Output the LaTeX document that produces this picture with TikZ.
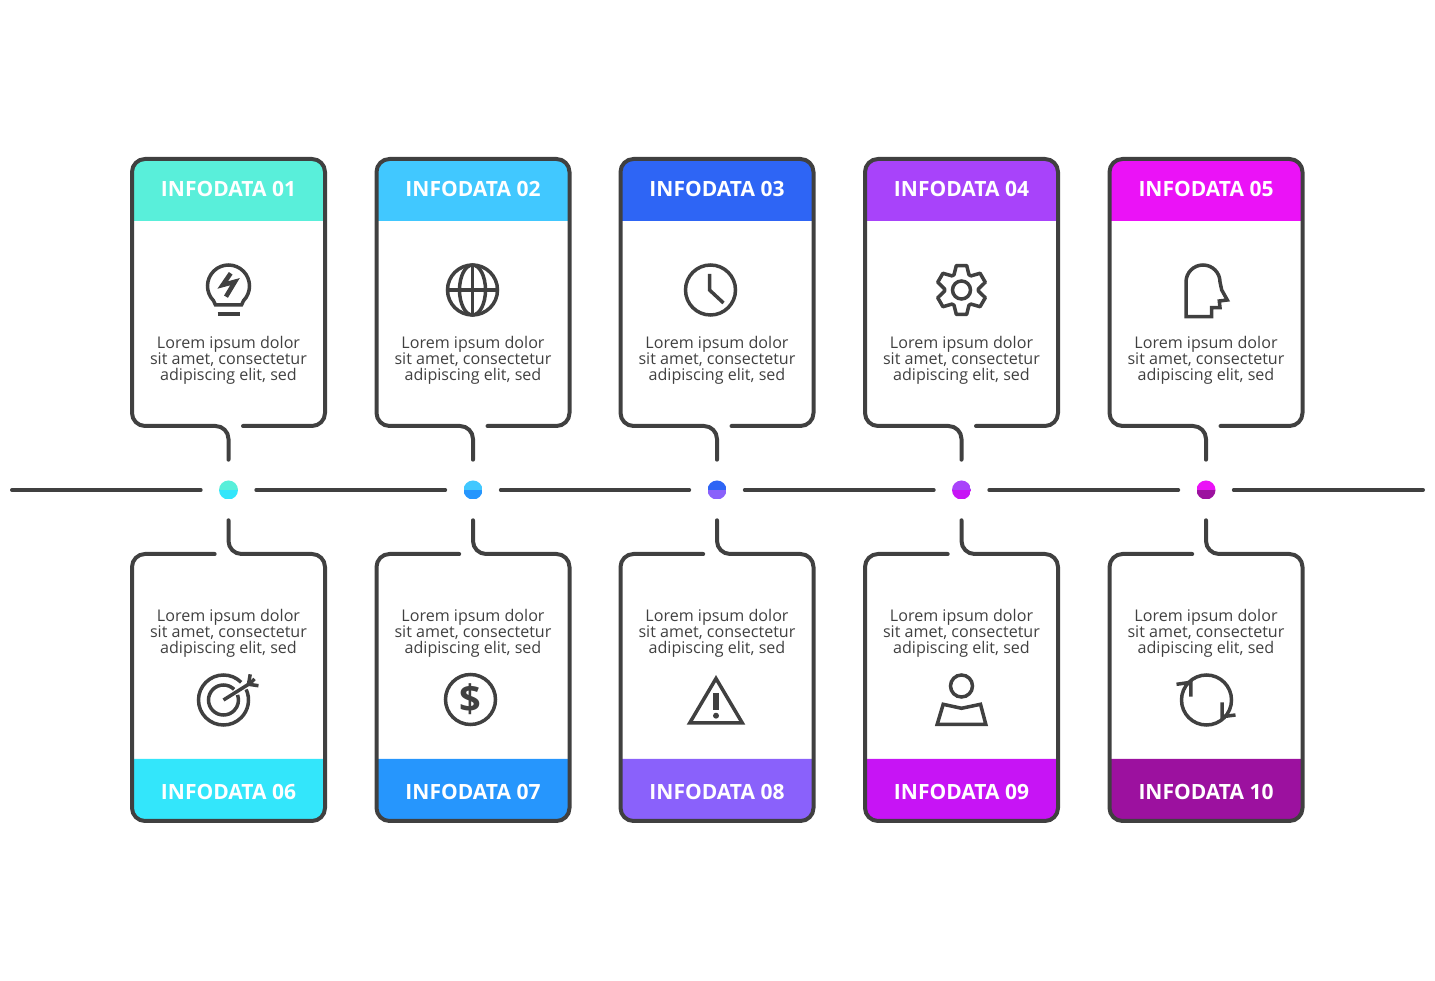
\documentclass[tikz,border=0pt]{standalone}
\usepackage{fontspec}
\usepackage{xcolor}
\setmainfont{Open Sans}
\usetikzlibrary{positioning}
\definecolor{inkgray}{HTML}{404040}
\definecolor{headA}{HTML}{59EFDA}
\definecolor{headB}{HTML}{41C8FF}
\definecolor{headC}{HTML}{2E65F5}
\definecolor{headD}{HTML}{A843FA}
\definecolor{headE}{HTML}{EB12F7}
\definecolor{headF}{HTML}{33E6FB}
\definecolor{headG}{HTML}{2696FD}
\definecolor{headH}{HTML}{8A61FB}
\definecolor{headI}{HTML}{C714F5}
\definecolor{headJ}{HTML}{9C119F}
\tikzset{
  wire/.style={draw=inkgray, line width=4, line cap=round, line join=round},
  cardbox/.style={minimum width=193, minimum height=267, inner sep=0, outer sep=0},
  dotnode/.style={circle, minimum size=19, inner sep=0, outer sep=0},
  titletext/.style={text=white, font=\fontsize{21}{24}\selectfont\bfseries},
  bodytext/.style={text=inkgray, align=center, font=\fontsize{16.1}{16}\selectfont},
  iconline/.style={draw=inkgray, line width=3.5},
  bulbicon/.pic={
    \draw[iconline] (-15,-14.7) arc[start angle=224.4, end angle=-44.4, radius=21] -- (13,-19) -- (-13,-19) -- cycle;
    \draw[iconline] (-11,-28) -- (11,-28);
    \draw[iconline, line width=4.5] (2.2,12.7) -- (-5.8,1) -- (6.5,4.3) -- (-2.5,-10.7);
  },
  globeicon/.pic={
    \draw[iconline] (0,0) circle[radius=25];
    \draw[iconline] (0,0) ellipse[x radius=13, y radius=25];
    \draw[iconline] (-25,0) -- (25,0) (0,25) -- (0,-25);
  },
  clockicon/.pic={
    \draw[iconline] (0,0) circle[radius=25];
    \draw[iconline] (-1,16) -- (-1,0) -- (13,-13);
  },
  gearicon/.pic={
    \draw[iconline, line join=round] (116:17) \foreach \a in {90,30,-30,-90,-150,-210} {
      -- (\a+26:17) -- (\a+12:25) -- (\a-12:25) -- (\a-26:17)} -- cycle;
    \draw[iconline] (0,0) circle[radius=9];
  },
  headicon/.pic={
    \draw[iconline] (-20,-26.7) -- (-20,8) arc[start angle=180, end angle=0, radius=17] -- (15.7,0) -- (21.3,-10) -- (13.3,-11) -- (14,-17.7) -- (5.7,-17.7) -- (5.7,-26.7) -- cycle;
  },
  targeticon/.pic={
    \draw[iconline] (0,0) ++(45:25) arc[start angle=45, end angle=385, radius=25];
    \draw[iconline] (0,0) ++(45:15) arc[start angle=45, end angle=380, radius=15];
    \draw[iconline] (0,0) -- (25,15.7);
    \draw[iconline] (26.7,25.7) -- (25,15.7) -- (35,14.3);
    \draw[iconline] (31,21) -- (26,16);
  },
  dollaricon/.pic={
    \draw[iconline] (0,0) circle[radius=25];
    \node[text=inkgray, inner sep=0, font=\fontsize{38}{40}\selectfont\bfseries] (dollarsign) at (0,0) {\$};
  },
  warningicon/.pic={
    \draw[iconline] (0,21.5) -- (26.3,-23) -- (-26.3,-23) -- cycle;
    \draw[inkgray, line width=5.2] (0,7) -- (0,-10);
    \fill[inkgray] (0,-15.7) circle[radius=3];
  },
  personicon/.pic={
    \draw[iconline] (0,14) circle[radius=11];
    \draw[iconline] (-18.3,-4.3) -- (0,-8.3) -- (19,-4.3) -- (24.3,-24.3) -- (-24.3,-24.3) -- cycle;
  },
  cycleicon/.pic={
    \draw[iconline] (0,0) circle[radius=25];
    \draw[iconline] (-30,15.7) -- (-15.7,17.7) -- (-15.7,3.3);
    \draw[iconline] (15.7,-2.3) -- (15.7,-16.7) -- (29,-15);
  }
}

\begin{document}
\begin{tikzpicture}[x=1pt, y=1pt]
  \useasboundingbox (0,0) rectangle (1435,980);
  % points on the line
  \foreach \n/\cx/\ctop/\cbot in {1/228.5/headA/headF, 2/473/headB/headG, 3/717/headC/headH, 4/961.5/headD/headI, 5/1206/headE/headJ} {
    \node[dotnode, path picture={
        \fill[\ctop] (path picture bounding box.north west) rectangle (path picture bounding box.east);
        \fill[\cbot] (path picture bounding box.west) rectangle (path picture bounding box.south east);
      }] (dot\n) at (\cx,490) {};
  }
  % main line
  \coordinate (lineleft) at (12,490);
  \coordinate (lineright) at (1423,490);
  \draw[wire, shorten >=18.3] (lineleft) -- (dot1);
  \foreach \a/\b in {1/2, 2/3, 3/4, 4/5} {
    \draw[wire, shorten <=18.3, shorten >=18.3] (dot\a) -- (dot\b);
  }
  \draw[wire, shorten <=18.3] (dot5) -- (lineright);
  % upper cards
  \foreach \n/\num/\col in {1/01/headA, 2/02/headB, 3/03/headC, 4/04/headD, 5/05/headE} {
    \node[cardbox, above=54.5 of dot\n] (card\n) {};
    \fill[\col] ([yshift=-62]card\n.north west) [rounded corners=13] -- (card\n.north west) -- (card\n.north east) [sharp corners] -- ([yshift=-62]card\n.north east) -- cycle;
    \draw[wire, rounded corners=13, shorten >=20.8] ([xshift=14.5]card\n.south) -| (card\n.north east) -| (card\n.south west) -| (dot\n.north);
    \node[titletext] (title\n) at ([yshift=-30]card\n.north) {INFODATA \num};
    \node[bodytext] (body\n) at ([yshift=66]card\n.south) {Lorem ipsum dolor\\sit amet, consectetur\\adipiscing elit, sed};
  }
  % lower cards
  \foreach \n/\d/\num/\col in {6/1/06/headF, 7/2/07/headG, 8/3/08/headH, 9/4/09/headI, 10/5/10/headJ} {
    \node[cardbox, below=54.5 of dot\d] (card\n) {};
    \fill[\col] ([yshift=62]card\n.south west) [rounded corners=13] -- (card\n.south west) -- (card\n.south east) [sharp corners] -- ([yshift=62]card\n.south east) -- cycle;
    \draw[wire, rounded corners=13, shorten <=20.8] (dot\d.south) |- (card\n.north east) |- (card\n.south west) |- ([xshift=-13.8]card\n.north);
    \node[titletext] (title\n) at ([yshift=29.5]card\n.south) {INFODATA \num};
    \node[bodytext] (body\n) at ([yshift=-79.3]card\n.north) {Lorem ipsum dolor\\sit amet, consectetur\\adipiscing elit, sed};
  }
  % icons
  \pic at (228.5,694) {bulbicon};
  \pic at (472.5,690) {globeicon};
  \pic at (710.5,690) {clockicon};
  \pic at (961.5,690) {gearicon};
  \pic at (1206,690) {headicon};
  \pic at (223.5,280) {targeticon};
  \pic at (470.5,280.5) {dollaricon};
  \pic at (716,280) {warningicon};
  \pic at (961.5,280) {personicon};
  \pic at (1206.5,280) {cycleicon};
\end{tikzpicture}
\end{document}
